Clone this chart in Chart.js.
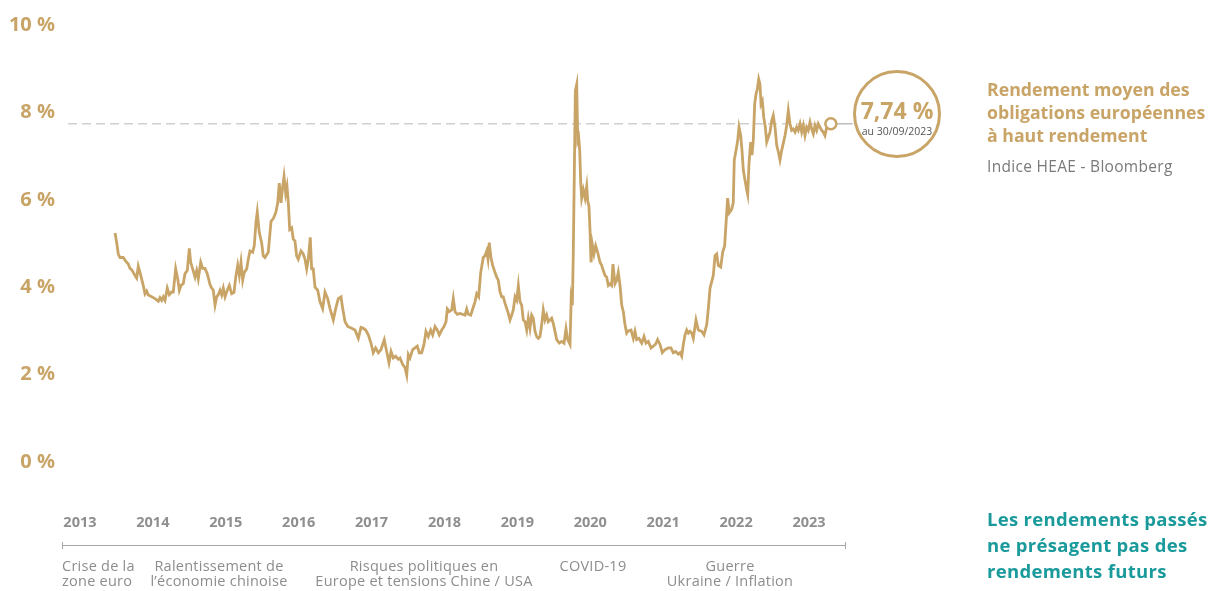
<!DOCTYPE html>
<html lang="fr">
<head>
<meta charset="utf-8">
<title>Rendement moyen des obligations européennes à haut rendement</title>
<script src="https://cdn.jsdelivr.net/npm/chart.js@4.4.0/dist/chart.umd.min.js"></script>
<style>
body {margin: 0; background: #fff; font-family: "Open Sans", sans-serif;}
#wrap {position: relative; width: 1210px; height: 591px; overflow: hidden;}
#chart {position: absolute; left: 0; top: 0;}
.ev {position: absolute; top: 558px; color: #8d8d8d; font-size: 14.5px; letter-spacing: 0.25px; line-height: 15px; white-space: nowrap;}
.ctr {transform: translateX(-50%); text-align: center;}
#timeline {position: absolute; left: 62px; top: 545px; width: 784px; height: 1px; background: #a6a6a6;}
.tick {position: absolute; top: 542px; width: 1px; height: 7px; background: #a6a6a6;}
#badge {position: absolute; left: 853px; top: 70px; width: 88px; height: 88px; box-sizing: border-box;
	border: 3px solid #c9a467; border-radius: 50%; background: #fff; text-align: center;}
#badge .val {margin-top: 24px; font-size: 23px; font-weight: 700; color: #c9a467; line-height: 26px;}
#badge .date {margin-top: 2px; font-size: 10.5px; color: #555; line-height: 12px;}
#title {position: absolute; left: 987px; top: 78px; color: #c9a467; font-size: 17.7px; font-weight: 700; line-height: 23px; white-space: nowrap;}
#source {position: absolute; left: 987px; top: 156px; color: #7a7a7a; font-size: 15.5px; letter-spacing: 0.3px; line-height: 21px;}
#warn {position: absolute; left: 987px; top: 506px; color: #1a9a9b; font-size: 18.5px; letter-spacing: 0.3px; font-weight: 700; line-height: 26px; white-space: nowrap;}
</style>
</head>
<body>
<div id="wrap">
	<canvas id="chart" width="1210" height="591"></canvas>
	<div id="timeline"></div>
	<div class="tick" style="left:62px"></div>
	<div class="tick" style="left:845px"></div>
	<div class="ev" style="left:62px">Crise de la<br>zone euro</div>
	<div class="ev ctr" style="left:219px">Ralentissement de<br>l’économie chinoise</div>
	<div class="ev ctr" style="left:424px">Risques politiques en<br>Europe et tensions Chine / USA</div>
	<div class="ev ctr" style="left:593px">COVID-19</div>
	<div class="ev ctr" style="left:730px">Guerre<br>Ukraine / Inflation</div>
	<div id="badge"><div class="val">7,74 %</div><div class="date">au 30/09/2023</div></div>
	<div id="title">Rendement moyen des<br>obligations européennes<br>à haut rendement</div>
	<div id="source">Indice HEAE - Bloomberg</div>
	<div id="warn">Les rendements passés<br>ne présagent pas des<br>rendements futurs</div>
</div>
<script>
const gold = "#c9a467";

//Dates as decimal years
const dates = [
	2013.931, 2013.954, 2013.976, 2013.999, 2014.044, 2014.068, 2014.091, 2014.113, 2014.136, 2014.159,
	2014.181, 2014.205, 2014.228, 2014.250, 2014.273, 2014.296, 2014.318, 2014.342, 2014.365, 2014.387,
	2014.434, 2014.480, 2014.525, 2014.548, 2014.571, 2014.593, 2014.617, 2014.648, 2014.676, 2014.708,
	2014.730, 2014.763, 2014.791, 2014.813, 2014.836, 2014.867, 2014.891, 2014.922, 2014.950, 2014.969,
	2014.996, 2015.028, 2015.051, 2015.073, 2015.106, 2015.133, 2015.165, 2015.196, 2015.234, 2015.257,
	2015.279, 2015.303, 2015.326, 2015.348, 2015.371, 2015.394, 2015.416, 2015.440, 2015.471, 2015.499,
	2015.531, 2015.563, 2015.590, 2015.614, 2015.636, 2015.659, 2015.682, 2015.704, 2015.737, 2015.759,
	2015.782, 2015.819, 2015.841, 2015.864, 2015.882, 2015.910, 2015.942, 2015.964, 2015.988, 2016.033,
	2016.071, 2016.102, 2016.135, 2016.163, 2016.184, 2016.208, 2016.226, 2016.249, 2016.272, 2016.290,
	2016.308, 2016.327, 2016.354, 2016.376, 2016.399, 2016.422, 2016.445, 2016.482, 2016.513, 2016.537,
	2016.560, 2016.582, 2016.609, 2016.628, 2016.650, 2016.674, 2016.711, 2016.742, 2016.779, 2016.811,
	2016.848, 2016.880, 2016.925, 2016.958, 2016.994, 2017.031, 2017.054, 2017.086, 2017.123, 2017.177,
	2017.223, 2017.268, 2017.305, 2017.336, 2017.369, 2017.405, 2017.442, 2017.473, 2017.506, 2017.542,
	2017.579, 2017.624, 2017.657, 2017.689, 2017.717, 2017.748, 2017.781, 2017.817, 2017.840, 2017.877,
	2017.909, 2017.932, 2017.954, 2017.977, 2018.014, 2018.045, 2018.077, 2018.104, 2018.137, 2018.169,
	2018.196, 2018.228, 2018.261, 2018.288, 2018.320, 2018.351, 2018.379, 2018.412, 2018.444, 2018.471,
	2018.489, 2018.516, 2018.549, 2018.571, 2018.595, 2018.626, 2018.663, 2018.700, 2018.732, 2018.755,
	2018.777, 2018.810, 2018.837, 2018.869, 2018.892, 2018.919, 2018.947, 2018.964, 2018.982, 2019.006,
	2019.029, 2019.047, 2019.064, 2019.088, 2019.111, 2019.143, 2019.166, 2019.188, 2019.212, 2019.235,
	2019.257, 2019.281, 2019.304, 2019.326, 2019.349, 2019.372, 2019.394, 2019.418, 2019.441, 2019.463,
	2019.486, 2019.509, 2019.531, 2019.555, 2019.578, 2019.600, 2019.623, 2019.646, 2019.668, 2019.692,
	2019.715, 2019.737, 2019.760, 2019.783, 2019.805, 2019.829, 2019.852, 2019.874, 2019.920, 2019.942,
	2019.966, 2019.989, 2020.025, 2020.058, 2020.090, 2020.117, 2020.140, 2020.172, 2020.188, 2020.204,
	2020.217, 2020.231, 2020.245, 2020.264, 2020.278, 2020.291, 2020.305, 2020.319, 2020.332, 2020.354,
	2020.378, 2020.401, 2020.415, 2020.432, 2020.446, 2020.460, 2020.478, 2020.501, 2020.524, 2020.551,
	2020.583, 2020.606, 2020.628, 2020.652, 2020.675, 2020.697, 2020.720, 2020.743, 2020.761, 2020.789,
	2020.812, 2020.834, 2020.858, 2020.881, 2020.903, 2020.926, 2020.949, 2020.971, 2021.009, 2021.040,
	2021.063, 2021.086, 2021.118, 2021.155, 2021.187, 2021.214, 2021.246, 2021.283, 2021.314, 2021.347,
	2021.374, 2021.406, 2021.438, 2021.475, 2021.520, 2021.557, 2021.588, 2021.621, 2021.657, 2021.681,
	2021.704, 2021.726, 2021.750, 2021.773, 2021.795, 2021.818, 2021.841, 2021.863, 2021.900, 2021.932,
	2021.978, 2022.010, 2022.047, 2022.069, 2022.092, 2022.115, 2022.137, 2022.161, 2022.184, 2022.206,
	2022.239, 2022.266, 2022.293, 2022.321, 2022.334, 2022.357, 2022.389, 2022.411, 2022.425, 2022.449,
	2022.472, 2022.490, 2022.513, 2022.531, 2022.549, 2022.572, 2022.595, 2022.609, 2022.627, 2022.650,
	2022.668, 2022.686, 2022.705, 2022.723, 2022.741, 2022.760, 2022.778, 2022.792, 2022.810, 2022.829,
	2022.851, 2022.870, 2022.892, 2022.915, 2022.938, 2022.960, 2022.984, 2023.007, 2023.029, 2023.052,
	2023.075, 2023.097, 2023.121, 2023.144, 2023.166, 2023.189, 2023.212, 2023.234, 2023.258, 2023.281,
	2023.303, 2023.327, 2023.350, 2023.372, 2023.395, 2023.418, 2023.440, 2023.464, 2023.487, 2023.509,
	2023.532, 2023.555, 2023.577, 2023.601, 2023.624, 2023.646, 2023.669, 2023.693, 2023.750,
];
//Yield in %
const yields = [
	5.24, 5.02, 4.76, 4.68, 4.68, 4.62, 4.57, 4.53, 4.43, 4.40,
	4.34, 4.27, 4.21, 4.48, 4.34, 4.19, 4.04, 3.85, 3.91, 3.82,
	3.78, 3.74, 3.68, 3.76, 3.70, 3.78, 3.70, 3.98, 3.83, 3.89,
	3.89, 4.42, 4.19, 3.93, 4.04, 4.08, 4.31, 4.38, 4.89, 4.57,
	4.42, 4.23, 4.38, 4.19, 4.57, 4.43, 4.43, 4.31, 4.06, 3.98,
	3.93, 3.59, 3.78, 3.83, 3.93, 3.82, 3.98, 3.78, 3.93, 4.04,
	3.85, 3.88, 4.27, 4.50, 4.27, 4.57, 4.16, 4.34, 4.42, 4.64,
	4.83, 4.80, 4.95, 5.48, 5.72, 5.25, 5.02, 4.72, 4.68, 4.80,
	5.51, 5.57, 5.70, 5.93, 6.38, 5.93, 6.23, 6.53, 6.15, 6.31,
	5.93, 5.32, 5.36, 5.10, 5.06, 4.72, 4.64, 4.83, 4.76, 4.64,
	4.42, 4.64, 5.14, 4.42, 4.42, 4.00, 3.93, 3.67, 3.51, 3.89,
	3.74, 3.51, 3.25, 3.51, 3.74, 3.78, 3.51, 3.21, 3.10, 3.06,
	3.02, 2.83, 3.08, 3.06, 3.02, 2.91, 2.72, 2.50, 2.61, 2.50,
	2.57, 2.80, 2.53, 2.27, 2.53, 2.38, 2.42, 2.35, 2.38, 2.23,
	2.16, 1.99, 2.46, 2.38, 2.57, 2.61, 2.65, 2.50, 2.50, 2.69,
	2.99, 2.87, 3.02, 2.91, 3.10, 3.02, 2.91, 3.02, 3.10, 3.21,
	3.50, 3.44, 3.48, 3.74, 3.44, 3.38, 3.40, 3.38, 3.36, 3.50,
	3.38, 3.36, 3.50, 3.67, 3.85, 3.78, 4.34, 4.50, 4.68, 4.72,
	4.83, 4.64, 5.02, 4.68, 4.50, 4.34, 4.23, 4.16, 3.89, 3.78,
	3.78, 3.63, 3.51, 3.40, 3.25, 3.36, 3.48, 3.78, 3.70, 4.04,
	3.67, 3.59, 3.25, 3.21, 3.02, 3.29, 3.06, 3.36, 3.29, 2.99,
	2.87, 2.83, 2.87, 3.14, 3.48, 3.25, 3.36, 3.21, 3.29, 3.17,
	2.99, 2.80, 2.72, 2.76, 2.72, 3.05, 2.80, 2.69, 3.74, 3.59,
	4.80, 6.61, 8.49, 8.64, 7.36, 7.43, 7.13, 6.38, 6.04, 6.23,
	6.04, 6.31, 5.97, 5.85, 5.32, 4.57, 4.98, 4.76, 4.95, 4.80,
	4.57, 4.50, 4.38, 4.27, 4.23, 4.04, 4.08, 4.04, 4.53, 4.08,
	4.16, 4.34, 4.04, 3.59, 3.44, 3.14, 2.95, 3.00, 3.02, 2.83,
	2.99, 2.80, 2.83, 2.72, 2.87, 2.72, 2.76, 2.61, 2.65, 2.70,
	2.80, 2.69, 2.50, 2.57, 2.61, 2.61, 2.50, 2.53, 2.47, 2.50,
	2.42, 2.69, 2.91, 3.02, 2.95, 2.99, 2.95, 2.83, 3.25, 3.02,
	2.99, 2.91, 3.14, 3.51, 3.97, 4.12, 4.27, 4.72, 4.76, 4.50,
	4.46, 4.80, 4.95, 5.70, 6.04, 5.70, 5.78, 5.93, 6.91, 7.13,
	7.36, 7.66, 7.47, 7.13, 6.68, 6.45, 6.23, 6.12, 6.83, 7.32,
	7.02, 7.36, 8.19, 8.42, 8.53, 8.76, 8.64, 8.19, 8.26, 7.89,
	7.66, 7.32, 7.43, 7.55, 7.81, 7.93, 7.66, 7.25, 7.10, 6.91,
	7.13, 7.29, 7.47, 7.70, 8.04, 7.74, 7.59, 7.62, 7.55, 7.66,
	7.59, 7.74, 7.55, 7.70, 7.47, 7.66, 7.59, 7.78, 7.62, 7.51,
	7.70, 7.59, 7.74, 7.66, 7.59, 7.55, 7.47, 7.66, 7.74,
];
const yearLabels = ["2013", "2014", "2015", "2016", "2017", "2018", "2019", "2020", "2021", "2022", "2023"];
const yTicks = [0, 2, 4, 6, 8, 10];
const lastYield = 7.74;
const xMin = 2013.286, xMax = 2024.081;
const last = dates.length - 1;

new Chart(document.getElementById("chart"), {
	type: "line",
	data: {
		datasets: [
			{
				data: dates.map((d, i) => ({x: d, y: yields[i]})),
				borderColor: gold, borderWidth: 2.8, tension: 0,
				pointRadius: ctx => ctx.dataIndex === last ? 5.5 : 0,
				pointBorderWidth: 2.5, pointBorderColor: gold, pointBackgroundColor: "#fff",
				order: 0,
			},
			{ //Reference level of the last value
				data: [{x: xMin, y: lastYield}, {x: dates[last], y: lastYield}],
				borderColor: "#d0d0d0", borderWidth: 1.5, borderDash: [9, 5], pointRadius: 0,
				order: 2,
			},
			{ //Connector towards the badge
				data: [{x: dates[last], y: lastYield}, {x: 2024.05, y: lastYield}],
				borderColor: "#bdbdbd", borderWidth: 1.5, pointRadius: 0,
				order: 1,
			},
		],
	},
	options: {
		responsive: false, animation: false, devicePixelRatio: 1,
		layout: {autoPadding: false, padding: {left: 0, right: 355, top: 19, bottom: 0}},
		plugins: {legend: {display: false}, tooltip: {enabled: false}},
		scales: {
			x: {
				type: "linear", min: xMin, max: xMax,
				grid: {display: false, drawTicks: false}, border: {display: false},
				afterFit: s => {s.height = 129;},
				afterBuildTicks: s => {s.ticks = yearLabels.map(y => ({value: +y + 0.45}));},
				ticks: {
					padding: 52, color: "#8f8f8f", maxRotation: 0, autoSkip: false,
					font: {family: "Open Sans", size: 14.5, weight: "bold"},
					callback: v => String(Math.round(v - 0.45)),
				},
			},
			y: {
				min: 0, max: 10,
				grid: {display: false, drawTicks: false}, border: {display: false},
				afterFit: s => {s.width = 68;},
				afterBuildTicks: s => {s.ticks = yTicks.map(v => ({value: v}));},
				ticks: {
					padding: 13, color: gold,
					font: {family: "Open Sans", size: 20, weight: "bold"},
					callback: v => v + " %",
				},
			},
		},
	},
});
</script>
</body>
</html>
